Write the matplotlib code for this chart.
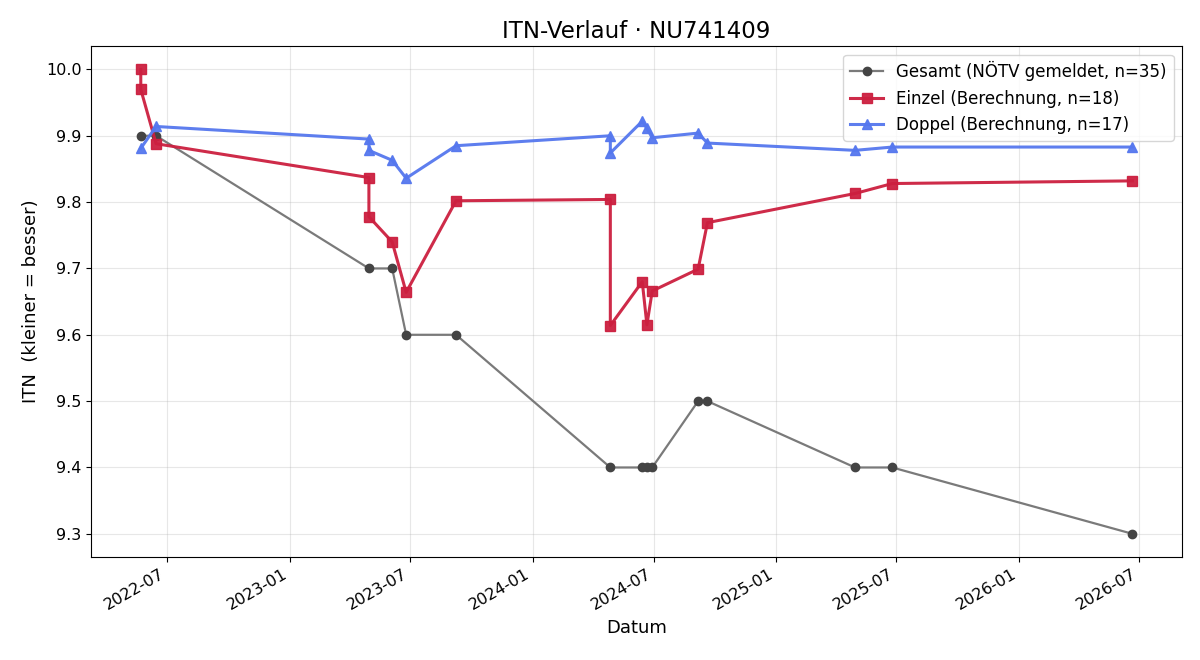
import pandas as pd
import matplotlib
matplotlib.use("Agg")
import matplotlib.pyplot as plt
import matplotlib.dates as mdates

# Daten
gesamt_datum = ["2022-05-22", "2022-06-14", "2023-04-30", "2023-06-04", "2023-06-25", "2023-09-08",
                "2024-04-27", "2024-06-14", "2024-06-21", "2024-06-29", "2024-09-06", "2024-09-20",
                "2025-04-30", "2025-06-25", "2026-06-21"]
gesamt_itn = [9.9, 9.9, 9.7, 9.7, 9.6, 9.6, 9.4, 9.4, 9.4, 9.4, 9.5, 9.5, 9.4, 9.4, 9.3]

einzel_datum = ["2022-05-22", "2022-05-22", "2022-06-14", "2023-04-30", "2023-04-30", "2023-06-04",
                "2023-06-25", "2023-09-08", "2024-04-27", "2024-04-27", "2024-06-14", "2024-06-21",
                "2024-06-29", "2024-09-06", "2024-09-20", "2025-04-30", "2025-06-25", "2026-06-21"]
einzel_itn = [10.0, 9.97, 9.888, 9.837, 9.778, 9.74, 9.664, 9.802, 9.804, 9.614, 9.68, 9.615,
              9.666, 9.699, 9.769, 9.813, 9.828, 9.832]

doppel_datum = ["2022-05-22", "2022-06-14", "2023-04-30", "2023-04-30", "2023-06-04", "2023-06-25",
                "2023-09-08", "2024-04-27", "2024-04-27", "2024-06-14", "2024-06-21", "2024-06-29",
                "2024-09-06", "2024-09-20", "2025-04-30", "2025-06-25", "2026-06-21"]
doppel_itn = [9.881, 9.914, 9.895, 9.878, 9.863, 9.836, 9.885, 9.9, 9.874, 9.922, 9.911, 9.897,
              9.904, 9.889, 9.878, 9.883, 9.883]

fig, ax = plt.subplots(figsize=(12, 6.6), dpi=100)

ax.plot(pd.to_datetime(gesamt_datum), gesamt_itn, color="#7a7a7a", lw=1.6, marker="o", ms=6,
        mfc="#444444", mec="#444444", label="Gesamt (NÖTV gemeldet, n=35)")
ax.plot(pd.to_datetime(einzel_datum), einzel_itn, color="#cc1f3f", lw=2.2, marker="s", ms=7,
        alpha=0.95, label="Einzel (Berechnung, n=18)")
ax.plot(pd.to_datetime(doppel_datum), doppel_itn, color="#5577ee", lw=2.2, marker="^", ms=7,
        alpha=0.95, label="Doppel (Berechnung, n=17)")

ax.xaxis.set_major_locator(mdates.MonthLocator(bymonth=[1, 7]))
ax.xaxis.set_major_formatter(mdates.DateFormatter("%Y-%m"))
ax.grid(True, alpha=0.3)
ax.set_title("ITN-Verlauf · NU741409", fontsize=16.5)
ax.set_xlabel("Datum", fontsize=13)
ax.set_ylabel("ITN  (kleiner = besser)", fontsize=13)
ax.tick_params(labelsize=11.5)
ax.legend(loc="upper right", fontsize=12)
fig.autofmt_xdate()
plt.subplots_adjust(left=0.076, right=0.985, top=0.93, bottom=0.156)
plt.savefig("out.png")
